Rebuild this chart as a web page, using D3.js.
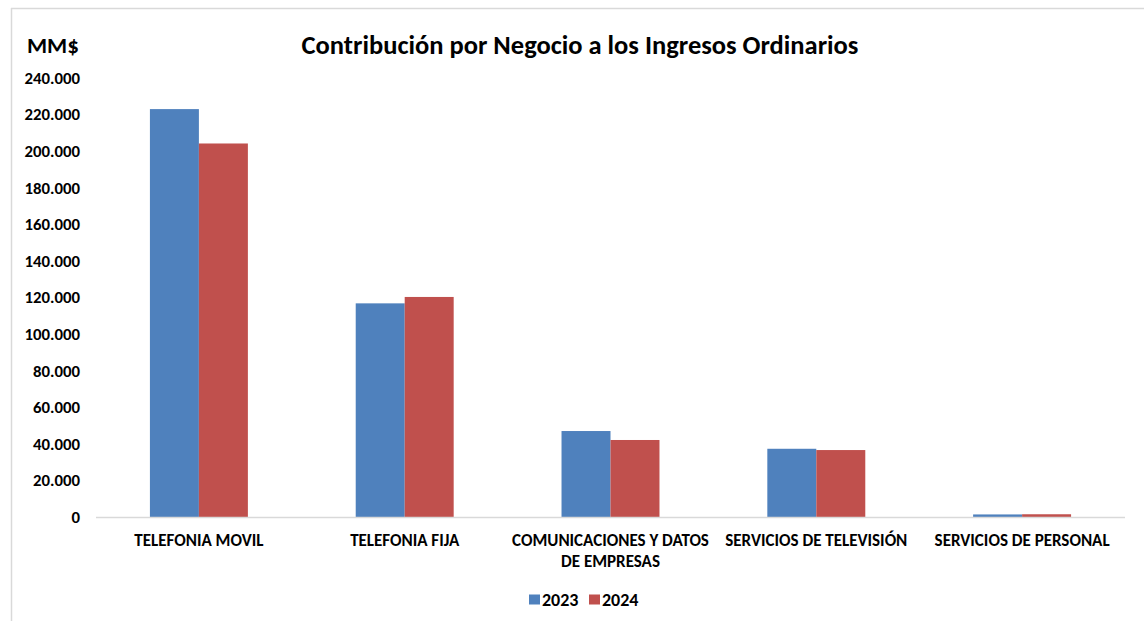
<!DOCTYPE html>
<html>
<head>
<meta charset="utf-8">
<script src="https://cdn.jsdelivr.net/npm/d3@7"></script>
<style>
  body { margin: 0; background: #fff; }
  svg { display: block; font-family: Carlito, Lato, "Open Sans", sans-serif; }
</style>
</head>
<body>
<svg id="chart" width="1144" height="621"></svg>
<script>
// data
const categories = ['TELEFONIA MOVIL', 'TELEFONIA FIJA', 'COMUNICACIONES Y DATOS DE EMPRESAS', 'SERVICIOS DE TELEVISIÓN', 'SERVICIOS DE PERSONAL'];
const categoryLines = [['TELEFONIA MOVIL'], ['TELEFONIA FIJA'], ['COMUNICACIONES Y DATOS', 'DE EMPRESAS'], ['SERVICIOS DE TELEVISIÓN'], ['SERVICIOS DE PERSONAL']];
const years = ['2023', '2024'];
const values2023 = [223000, 116800, 47000, 37300, 1400];
const values2024 = [204200, 120300, 42100, 36600, 1500];
const yTicks = [0, 20000, 40000, 60000, 80000, 100000, 120000, 140000, 160000, 180000, 200000, 220000, 240000];
const colors = ['#4F81BD', '#C0504D'];

const svg = d3.select('#chart');
const margin = {left: 96, right: 19, top: 78, bottom: 104};
const width = 1144 - margin.left - margin.right;
const height = 621 - margin.top - margin.bottom;

// chart frame (only top and left edges fall inside the picture)
svg.append('line').attr('x1', 11).attr('x2', 1144).attr('y1', 8.5).attr('y2', 8.5)
    .attr('stroke', '#d9d9d9').attr('stroke-width', 1.5);
svg.append('line').attr('x1', 11.5).attr('x2', 11.5).attr('y1', 8).attr('y2', 621)
    .attr('stroke', '#d9d9d9').attr('stroke-width', 1.5);

const g = svg.append('g').attr('transform', `translate(${margin.left},${margin.top})`);

const x0 = d3.scaleBand().domain(categories).range([0, width]).paddingInner(0.524).paddingOuter(0.262);
const x1 = d3.scaleBand().domain(years).range([0, x0.bandwidth()]);
const y = d3.scaleLinear().domain([0, 240000]).range([height, 0]);

const fmt = v => d3.format(',')(v).replace(/,/g, '.');

// y axis labels, no line
const yAxis = g.append('g')
    .call(d3.axisLeft(y).tickValues(yTicks).tickFormat(fmt).tickSize(0).tickPadding(16));
yAxis.select('.domain').remove();
yAxis.selectAll('text').attr('font-size', 16.8).attr('font-weight', 'bold').attr('fill', '#000')
    .attr('font-family', 'Carlito, Lato, sans-serif');

// bars
const series = [values2023, values2024];
const groups = g.selectAll('.grp').data(categories).enter().append('g')
    .attr('transform', d => `translate(${x0(d)},0)`);
groups.selectAll('rect').data((d, i) => years.map((yr, s) => ({yr, v: series[s][i], s})))
    .enter().append('rect')
    .attr('x', d => x1(d.yr))
    .attr('width', x1.bandwidth())
    .attr('y', d => y(d.v))
    .attr('height', d => height - y(d.v))
    .attr('fill', d => colors[d.s]);

// x axis line
g.append('line').attr('x1', 0).attr('x2', width).attr('y1', height + 0.5).attr('y2', height + 0.5)
    .attr('stroke', '#d9d9d9').attr('stroke-width', 1.5);

// category labels
categories.forEach((c, i) => {
    const t = g.append('text')
        .attr('x', x0(c) + x0.bandwidth() / 2)
        .attr('y', height + 29)
        .attr('text-anchor', 'middle')
        .attr('font-size', 17).attr('font-weight', 'bold').attr('fill', '#000');
    categoryLines[i].forEach((line, k) => {
        t.append('tspan').attr('x', x0(c) + x0.bandwidth() / 2).attr('dy', k ? 21 : 0).text(line);
    });
});

// title and unit
svg.append('text').attr('x', 580).attr('y', 54).attr('text-anchor', 'middle')
    .attr('font-size', 26.5).attr('font-weight', 'bold').attr('fill', '#000')
    .text('Contribución por Negocio a los Ingresos Ordinarios');
svg.append('text').attr('x', 27).attr('y', 53)
    .attr('font-size', 23).attr('font-weight', 'bold').attr('fill', '#000')
    .text('MM$');

// legend
const legend = svg.append('g').attr('transform', 'translate(529,600)');
const legX = [0, 60];
years.forEach((yr, i) => {
    legend.append('rect').attr('x', legX[i]).attr('y', -5.5).attr('width', 11).attr('height', 10).attr('fill', colors[i]);
    legend.append('text').attr('x', legX[i] + 13).attr('y', 0).attr('dy', '0.36em')
        .attr('font-size', 18).attr('font-weight', 'bold').attr('fill', '#000').text(yr);
});
</script>
</body>
</html>
